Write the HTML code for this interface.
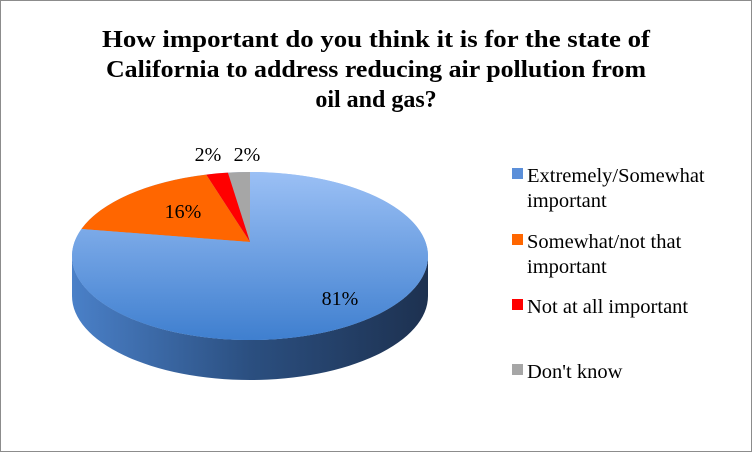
<!DOCTYPE html>
<html><head><meta charset="utf-8"><style>
body{margin:0;background:#fff}
svg{display:block;font-family:"Liberation Serif",serif}
</style></head><body>
<svg width="752" height="452">
<defs>
<linearGradient id="top" x1="0" y1="0" x2="0" y2="1"><stop offset="0" stop-color="#9bc0f5"/><stop offset="1" stop-color="#3f7fcf"/></linearGradient>
<linearGradient id="side" x1="0" y1="0" x2="1" y2="0"><stop offset="0" stop-color="#4a80c8"/><stop offset="0.5" stop-color="#2b4f80"/><stop offset="1" stop-color="#1d3150"/></linearGradient>
</defs>
<rect x="0.5" y="0.5" width="751" height="451" fill="#fff" stroke="#8c8c8c"/>
<g font-weight="bold" font-size="24" text-anchor="middle" fill="#000">
<text x="376" y="47" textLength="548" lengthAdjust="spacingAndGlyphs">How important do you think it is for the state of</text>
<text x="376" y="77" textLength="540" lengthAdjust="spacingAndGlyphs">California to address reducing air pollution from</text>
<text x="376" y="107">oil and gas?</text>
</g>
<g id="pie"></g>
<g id="legend"></g>
</svg>
<script>
const categories=["Extremely/Somewhat important","Somewhat/not that important","Not at all important","Don't know"];
const values=[81,16,2,2];
const labels=["81%","16%","2%","2%"];
const colors=["url(#top)","#ff6600","#ff0000","#a6a6a6"];
const legendColors=["#5b8fd9","#ff6600","#ff0000","#a6a6a6"];
const NS="http://www.w3.org/2000/svg";
const cx=250,cy=256,rx=178,ry=84,depth=40,apexY=242;
const pie=document.getElementById('pie');
function pt(a){return [cx+rx*Math.sin(a),cy-ry*Math.cos(a)];}
const side=document.createElementNS(NS,'path');
side.setAttribute('d',`M${cx-rx},${cy} A${rx},${ry} 0 0 0 ${cx+rx},${cy} L${cx+rx},${cy+depth} A${rx},${ry} 0 0 1 ${cx-rx},${cy+depth} Z`);
side.setAttribute('fill','url(#side)');


pie.appendChild(side);
const base=document.createElementNS(NS,'ellipse');
base.setAttribute('cx',cx);base.setAttribute('cy',cy);base.setAttribute('rx',rx);base.setAttribute('ry',ry);
base.setAttribute('fill','url(#top)');


pie.appendChild(base);
const total=values.reduce((a,b)=>a+b,0);
let ang=0;
const order=[3,2,1,0];
const lblPos={3:[247,161],2:[208,161],1:[183,218],0:[340,305]};
order.forEach(i=>{
  const sweep=values[i]/total*2*Math.PI;
  const a0=ang,a1=ang-sweep;
  const p0=pt(a0),p1=pt(a1);
  const large=sweep>Math.PI?1:0;
  const p=document.createElementNS(NS,'path');
  p.setAttribute('d',`M${cx},${apexY} L${p0[0]},${p0[1]} A${rx},${ry} 0 ${large} 0 ${p1[0]},${p1[1]} Z`);
  p.setAttribute('fill',colors[i]);
  
  
  pie.appendChild(p);
  ang=a1;
});
order.forEach(i=>{
  const t=document.createElementNS(NS,'text');
  const mid=lblPos[i];
  t.setAttribute('x',mid[0]);t.setAttribute('y',mid[1]);
  t.setAttribute('font-size','20');t.setAttribute('text-anchor','middle');
  t.textContent=labels[i];
  
  
  pie.appendChild(t);
});
const lg=document.getElementById('legend');
const lines=[["Extremely/Somewhat","important"],["Somewhat/not that","important"],["Not at all important"],["Don't know"]];
const ly=[182,248,313,378];
categories.forEach((c,i)=>{
  const g=document.createElementNS(NS,'g');
  
  
  const r=document.createElementNS(NS,'rect');
  r.setAttribute('x',512);r.setAttribute('y',ly[i]-14);r.setAttribute('width',11);r.setAttribute('height',11);
  r.setAttribute('fill',legendColors[i]);
  g.appendChild(r);
  lines[i].forEach((s,k)=>{
    const t=document.createElementNS(NS,'text');
    t.setAttribute('x',527);t.setAttribute('y',ly[i]+k*25);t.setAttribute('font-size','20.5');
    t.textContent=s;g.appendChild(t);
  });
  lg.appendChild(g);
});
</script>
</body></html>
